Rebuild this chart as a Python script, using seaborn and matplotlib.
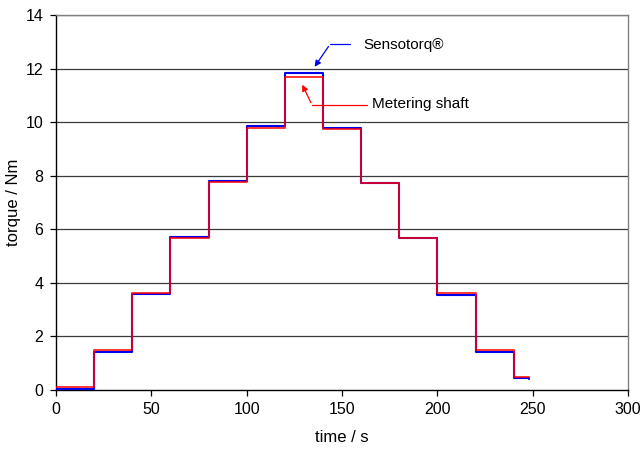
import matplotlib
matplotlib.use("Agg")
import matplotlib.pyplot as plt
import seaborn as sns
import pandas as pd

# Step start times (s) and torque levels (Nm)
step_times = [0, 20, 40, 60, 80, 100, 120, 140, 160, 180, 200, 220, 240, 248]
metering_shaft = [0.13, 1.49, 3.62, 5.69, 7.75, 9.78, 11.67, 9.74, 7.73, 5.67, 3.61, 1.49, 0.49, 0.49]
sensotorq = [0.04, 1.40, 3.58, 5.72, 7.81, 9.84, 11.82, 9.79, 7.72, 5.66, 3.56, 1.43, 0.45, 0.40]

x_ticks = [0, 50, 100, 150, 200, 250, 300]
y_ticks = [0, 2, 4, 6, 8, 10, 12, 14]

sns.set_style("white")
plt.rcParams["font.family"] = ["Liberation Sans", "DejaVu Sans"]
plt.rcParams["text.color"] = "black"
plt.rcParams["axes.labelcolor"] = "black"

df = pd.DataFrame({"time": step_times, "Sensotorq": sensotorq, "Metering shaft": metering_shaft})

fig = plt.figure(figsize=(6.43, 4.54), dpi=100)
ax = fig.add_axes([0.087, 0.141, 0.890, 0.826])

for y in y_ticks[1:]:
    ax.axhline(y, color="#3a3a3a", lw=0.9, zorder=1)

sns.lineplot(data=df, x="time", y="Sensotorq", ax=ax, color="#0000ee", lw=1.5,
             drawstyle="steps-post", estimator=None, sort=False, zorder=3)
sns.lineplot(data=df, x="time", y="Metering shaft", ax=ax, color="#ff0000", lw=1.3,
             alpha=0.85, drawstyle="steps-post", estimator=None, sort=False, zorder=4)

ax.set_xlim(0, 300)
ax.set_ylim(0, 14)
ax.set_xticks(x_ticks)
ax.set_yticks(y_ticks)
ax.tick_params(axis="both", direction="out", length=4, width=0.9, color="black",
               labelcolor="black", labelsize=11.5, pad=5, bottom=True, left=True)
ax.set_xlabel("time / s", fontsize=12, labelpad=9)
ax.set_ylabel("torque / Nm", fontsize=12, labelpad=3)

for side in ("left", "bottom"):
    ax.spines[side].set_color("black")
    ax.spines[side].set_linewidth(1.0)
for side in ("top", "right"):
    ax.spines[side].set_color("#808080")
    ax.spines[side].set_linewidth(1.0)

# Callouts
ax.plot([154.2, 143.7], [12.91, 12.91], color="#0000ee", lw=0.9, zorder=5)
ax.annotate("", xy=(134.8, 11.98), xytext=(143.7, 12.91),
            arrowprops=dict(arrowstyle="-|>", color="#0000ee", lw=0.9, mutation_scale=9), zorder=5)
ax.text(161, 12.87, "Sensotorq®", fontsize=11, va="center", ha="left")

ax.plot([163.0, 134.3], [10.63, 10.63], color="#ff0000", lw=0.9, zorder=5)
ax.annotate("", xy=(128.5, 11.49), xytext=(134.3, 10.63),
            arrowprops=dict(arrowstyle="-|>", color="#ff0000", lw=0.9, mutation_scale=9), zorder=5)
ax.text(165.5, 10.68, "Metering shaft", fontsize=11, va="center", ha="left")

fig.savefig("out.png", dpi=100)
